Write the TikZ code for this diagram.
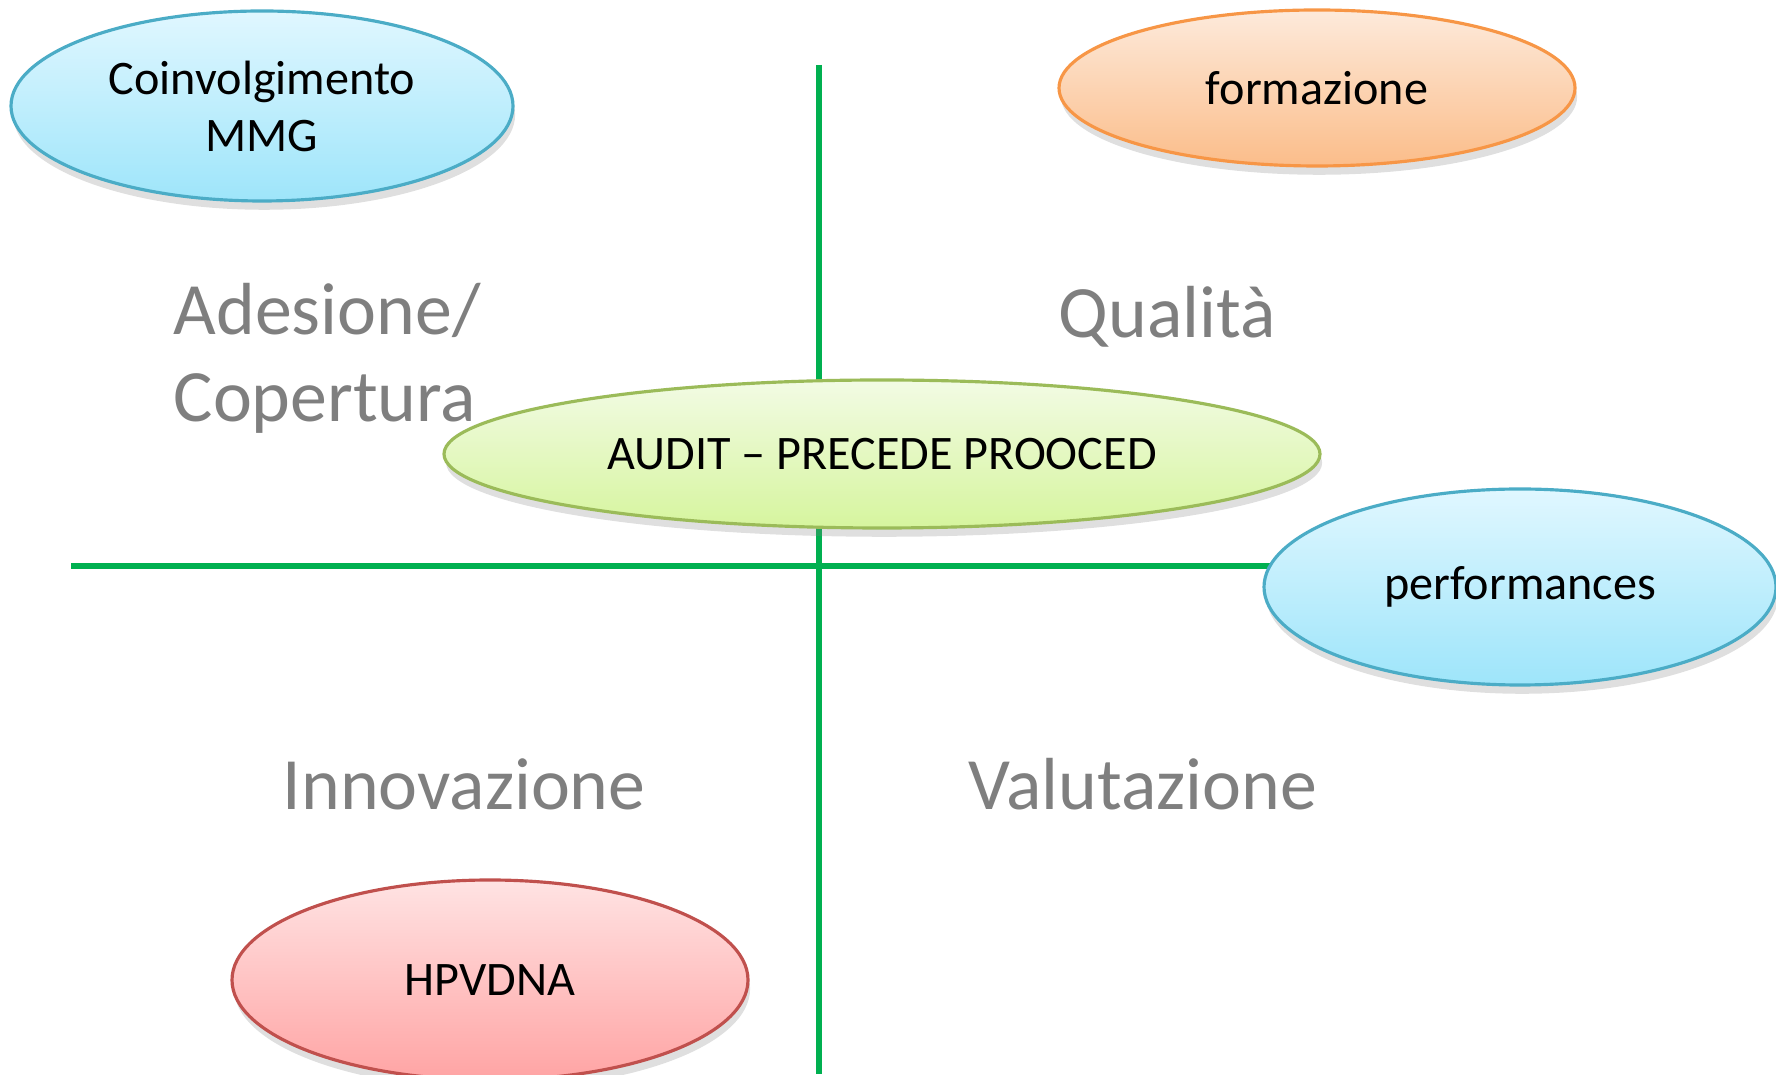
\documentclass[tikz,border=0pt]{standalone}
\usepackage{fontspec}
\setmainfont{Carlito}
\usepackage{tikz}
\usetikzlibrary{shapes.geometric}
\usetikzlibrary{shadows}
\definecolor{linegreen}{RGB}{0,176,80}
\definecolor{quadgray}{RGB}{127,127,127}
\definecolor{blueline}{RGB}{75,172,198}
\definecolor{bluetop}{RGB}{224,247,255}
\definecolor{bluebot}{RGB}{158,229,250}
\definecolor{orangeline}{RGB}{247,150,70}
\definecolor{orangetop}{RGB}{253,234,219}
\definecolor{orangebot}{RGB}{251,189,138}
\definecolor{greenline}{RGB}{155,187,89}
\definecolor{greentop}{RGB}{242,251,228}
\definecolor{greenbot}{RGB}{214,245,158}
\definecolor{redline}{RGB}{192,80,77}
\definecolor{redtop}{RGB}{255,227,227}
\definecolor{redbot}{RGB}{255,164,164}
\tikzstyle{bubble} = [draw, ellipse, inner sep=0pt, line width=0.9pt, align=center, font=\fontsize{13.7}{16.2}\selectfont, drop shadow={opacity=0.25, shadow xshift=0.6pt, shadow yshift=-2.5pt}]
\tikzstyle{bluebubble} = [bubble, draw=blueline, top color=bluetop, bottom color=bluebot]
\tikzstyle{orangebubble} = [bubble, draw=orangeline, top color=orangetop, bottom color=orangebot]
\tikzstyle{greenbubble} = [bubble, draw=greenline, top color=greentop, bottom color=greenbot]
\tikzstyle{redbubble} = [bubble, draw=redline, top color=redtop, bottom color=redbot]
\tikzstyle{quadrant} = [text=quadgray, font=\fontsize{21}{25}\selectfont, inner sep=0pt, anchor=base west]
\tikzstyle{axisline} = [draw=linegreen, line width=1.6pt]

\begin{document}
\begin{tikzpicture}
	\useasboundingbox (0,0) rectangle (17.76,10.74);

	\coordinate(vtop) at (8.19, 10.09);
	\coordinate(vbot) at (8.19, 0);
	\coordinate(hleft) at (0.71, 5.08);
	\coordinate(hright) at (15.2, 5.08);
	\draw[axisline](vtop) -- (vbot);
	\draw[axisline](hleft) -- (hright);

	\node[quadrant, align=left](adesione) at (1.73, 6.52){Adesione/\\Copertura};
	\node[quadrant](qualita) at (10.58, 7.36){Qualità};
	\node[quadrant](innovazione) at (2.82, 2.64){Innovazione};
	\node[quadrant](valutazione) at (9.68, 2.64){Valutazione};

	\node[bluebubble, minimum width=5.02cm, minimum height=1.9cm](mmg) at (2.62, 9.68){Coinvolgimento\\MMG};
	\node[orangebubble, minimum width=5.16cm, minimum height=1.56cm](formazione) at (13.17, 9.86){formazione};
	\node[greenbubble, minimum width=8.76cm, minimum height=1.48cm](audit) at (8.82, 6.20){AUDIT -- PRECEDE PROOCED};
	\node[bluebubble, minimum width=5.12cm, minimum height=1.96cm](performances) at (15.20, 4.87){performances};
	\node[redbubble, minimum width=5.16cm, minimum height=2cm](hpv) at (4.90, 0.94){HPVDNA};
\end{tikzpicture}
\end{document}
